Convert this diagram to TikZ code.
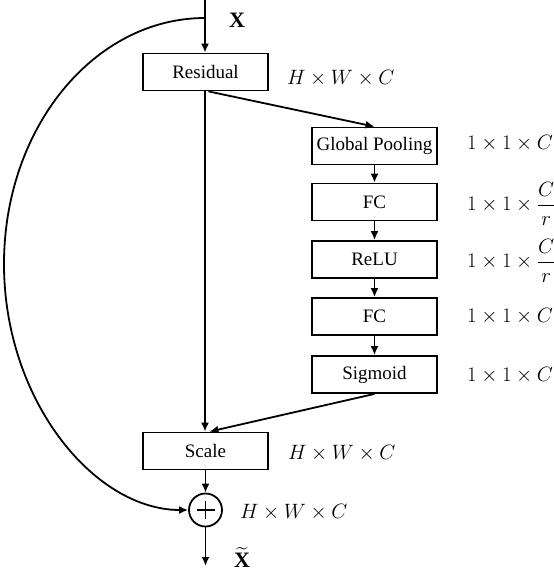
\documentclass[tikz,border=0pt]{standalone}
\usepackage{fontspec}
\setmainfont{Liberation Serif}
\usepackage{amsmath}
\usetikzlibrary{arrows.meta}
\begin{document}
\begin{tikzpicture}[x=1pt,y=-1pt,
  box/.style={draw,line width=1.8pt,minimum width=125pt,minimum height=37pt,inner sep=0pt,font=\fontsize{19}{21}\selectfont},
  lbl/.style={anchor=west,inner sep=0pt,font=\fontsize{21.5}{23}\selectfont},
  conn/.style={line width=1.8pt,-{Latex[length=9pt,width=8pt]}}]
\useasboundingbox (0,0) rectangle (554,576);
\coordinate (top) at (205,0);
\coordinate (split) at (205,18);
\node[box] (res) at (205.5,72) {Residual};
\node[box] (gp) at (374.5,146) {Global Pooling};
\node[box] (fc1) at (374.5,202) {FC};
\node[box] (relu) at (374.5,259.5) {ReLU};
\node[box] (fc2) at (374.5,316.5) {FC};
\node[box] (sig) at (374.5,374.5) {Sigmoid};
\node[box] (scale) at (205.5,451) {Scale};
\node[draw,circle,line width=1.8pt,minimum size=33pt,inner sep=0pt] (plus) at (205.5,510) {};
\draw[line width=1.3pt] ([xshift=-9pt]plus.center) -- ([xshift=9pt]plus.center) ([yshift=-9pt]plus.center) -- ([yshift=9pt]plus.center);
\coordinate (out) at (205.5,566);
% labels
\node[inner sep=0pt,font=\fontsize{22}{24}\selectfont] (xin) at (237,20) {$\mathbf{X}$};
\node[inner sep=0pt,anchor=north,font=\fontsize{22}{24}\selectfont] (xout) at (242,547) {$\widetilde{\mathbf{X}}$};
\node[lbl] (lres) at (287,78) {$H\times W\times C$};
\node[lbl] (lgp) at (467,143) {$1\times 1\times C$};
\node[lbl] (lfc1) at (467,204) {$1\times 1\times \dfrac{C}{r}$};
\node[lbl] (lrelu) at (467,261) {$1\times 1\times \dfrac{C}{r}$};
\node[lbl] (lfc2) at (467,316) {$1\times 1\times C$};
\node[lbl] (lsig) at (467,375) {$1\times 1\times C$};
\node[lbl] (lscale) at (288,453) {$H\times W\times C$};
\node[lbl] (lplus) at (240,512) {$H\times W\times C$};
% connectors
\draw[conn] (top) -- (res.north -| top);
\draw[conn] (res.south -| top) -- (scale.north -| top);
\draw[conn] ([xshift=3pt]res.south) -- (gp.north);
\draw[conn] (gp) -- (fc1);
\draw[conn] (fc1) -- (relu);
\draw[conn] (relu) -- (fc2);
\draw[conn] (fc2) -- (sig);
\draw[conn] (sig.south) -- ([xshift=4pt]scale.north);
\draw[conn] (scale) -- (plus);
\draw[conn] (plus) -- (out);
\draw[conn] (split) .. controls (94,18) and (4,128) .. (4,264) .. controls (4,400) and (94,510) .. (plus.west);
\end{tikzpicture}
\end{document}
